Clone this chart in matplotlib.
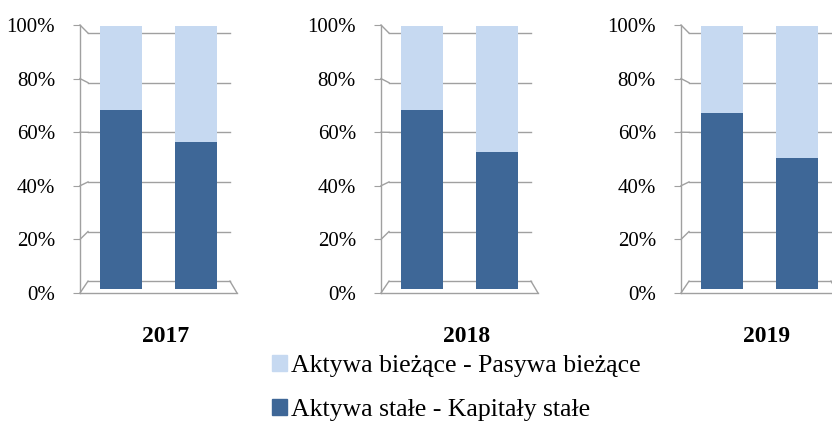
import numpy as np
import matplotlib
matplotlib.use("Agg")
import matplotlib.pyplot as plt
from matplotlib.patches import Patch
from matplotlib.transforms import blended_transform_factory

plt.rcParams['font.family'] = ['Liberation Serif', 'DejaVu Serif']

# dane
years = ['2017', '2018', '2019']
stale = [[0.68, 0.56], [0.68, 0.52], [0.67, 0.50]]  # Aktywa stałe - Kapitały stałe
biezace = [[1 - v for v in row] for row in stale]    # Aktywa bieżące - Pasywa bieżące
tick_labels = ['0%', '20%', '40%', '60%', '80%', '100%']
series_names = ['Aktywa bieżące - Pasywa bieżące', 'Aktywa stałe - Kapitały stałe']

c_dark = '#3E6797'
c_light = '#C6D9F1'
c_grid = '#A0A0A0'

W, H = 832, 447
fig = plt.figure(figsize=(W / 100, H / 100), dpi=100)

axis_x = [80, 381, 681]  # pozycja osi Y w pikselach
lo, hi = -4 / 263, 1 + 1 / 263
xl, xr = -0.547, 1.547
gx0, gx1 = -0.44, 1.453

for i, year in enumerate(years):
    ax = fig.add_axes([axis_x[i] / W, (H - 293) / H, 157 / W, 268 / H])
    ax.set_xlim(xl, xr)
    ax.set_ylim(lo, hi)

    # tylna ściana - linie siatki (efekt 3D)
    for k in range(6):
        v = k / 5
        fy = lo + (hi - lo) * v
        by = 0.03 + v * 0.943
        ax.plot([gx0, gx1], [by, by], color=c_grid, lw=1.0, zorder=1, clip_on=False)
        ax.plot([xl, gx0], [fy, by], color=c_grid, lw=1.0, zorder=1, clip_on=False)
    # podłoga
    ax.plot([xr, gx1], [lo, 0.03], color=c_grid, lw=1.0, zorder=1, clip_on=False)

    x = np.arange(2)
    ax.bar(x, stale[i], width=0.56, color=c_dark, zorder=3)
    ax.bar(x, biezace[i], bottom=stale[i], width=0.56, color=c_light, zorder=3)

    ax.set_yticks(np.linspace(lo, hi, 6))
    ax.set_yticklabels(tick_labels)
    ax.set_xticks([])
    ax.tick_params(axis='y', direction='out', length=5, color=c_grid, labelsize=15, pad=13)
    for s in ['top', 'right']:
        ax.spines[s].set_visible(False)
    for s in ['left', 'bottom']:
        ax.spines[s].set_color(c_grid)
        ax.spines[s].set_linewidth(1.0)
    ax.patch.set_visible(False)

    tr = blended_transform_factory(ax.transData, fig.transFigure)
    ax.text(0.6, (H - 336) / H, year, transform=tr,
            fontsize=17, fontweight='bold', ha='center', va='center')

handles = [Patch(color=c_light), Patch(color=c_dark)]
fig.legend(handles, series_names, loc='center left', bbox_to_anchor=(0.314, (H - 388) / H),
           frameon=False, fontsize=18.5, handlelength=0.6, handleheight=0.6,
           handletextpad=0.15, labelspacing=0.85, borderaxespad=0)

fig.savefig('out.png', dpi=100)
